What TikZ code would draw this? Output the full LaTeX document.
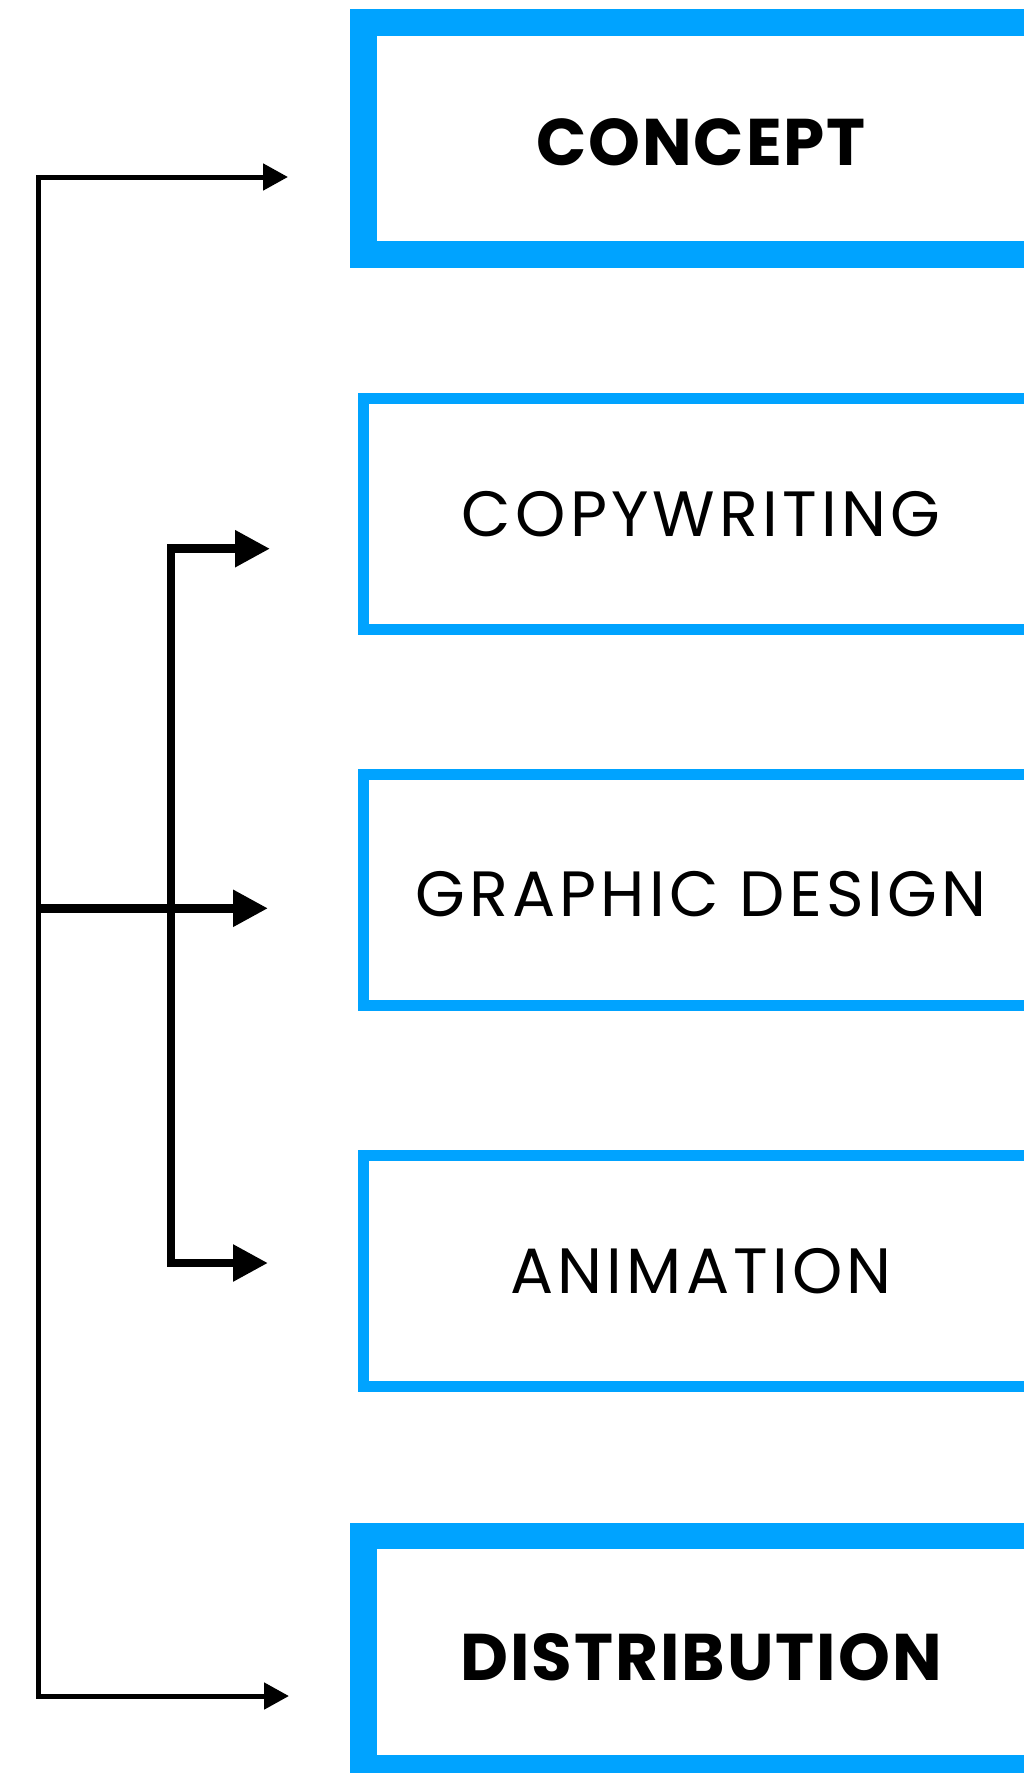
\documentclass[tikz,border=0pt]{standalone}
\usepackage{fontspec}
\setmainfont{Poppins}
\newfontfamily\boxboldfont[LetterSpace=3]{Poppins Bold}
\newfontfamily\boxlightfont[LetterSpace=6.5]{Poppins}
\usetikzlibrary{arrows.meta}
\definecolor{boxblue}{RGB}{0,163,255}
\tikzset{
  heavybox/.style={draw=boxblue, line width=26.5pt, fill=white, minimum width=675.5pt, minimum height=232pt, inner sep=0pt, font=\fontsize{66}{70}\boxboldfont},
  lightbox/.style={draw=boxblue, line width=11pt, fill=white, minimum width=675pt, minimum height=231pt, inner sep=0pt, font=\fontsize{64}{68}\boxlightfont},
  thinconn/.style={draw=black, line width=5pt, {Triangle[length=25pt,width=26pt]}-{Triangle[length=25pt,width=26pt]}},
  thickconn/.style={draw=black, line width=8.5pt, {Triangle[length=35pt,width=35pt]}-{Triangle[length=35pt,width=35pt]}},
  thickarrow/.style={draw=black, line width=8.5pt, -{Triangle[length=35pt,width=35pt]}}
}
\begin{document}
\begin{tikzpicture}[x=1pt,y=-1pt]
\clip (0,0) rectangle (1024,1773);
\fill[white] (0,0) rectangle (1024,1773);
% boxes
\node[heavybox, text height=55pt, text depth=0pt] (concept) at (701,138.25) {CONCEPT};
\node[lightbox] (copy) at (701,514.3) {COPYWRITING};
\node[lightbox, text height=53.6pt, text depth=0pt] (graphic) at (701,889.5) {GRAPHIC DESIGN};
\node[lightbox] (anim) at (701,1271.2) {ANIMATION};
\node[heavybox, text height=57pt, text depth=0pt] (dist) at (701,1652) {DISTRIBUTION};
% connector points
\coordinate (c1) at (38,177);
\coordinate (t1) at (288,177);
\coordinate (c5) at (38,1696);
\coordinate (t5) at (289,1696);
\coordinate (cm) at (38,908.3);
\coordinate (tm) at (268,908.3);
\coordinate (c2) at (171,548.7);
\coordinate (t2) at (270,548.7);
\coordinate (c4) at (171,1263);
\coordinate (t4) at (268,1263);
% connectors
\draw[thinconn] (t1) -- (c1) -- (c5) -- (t5);
\draw[thickconn] (t2) -- (c2) -- (c4) -- (t4);
\draw[thickarrow] (cm) -- (tm);
\end{tikzpicture}
\end{document}
